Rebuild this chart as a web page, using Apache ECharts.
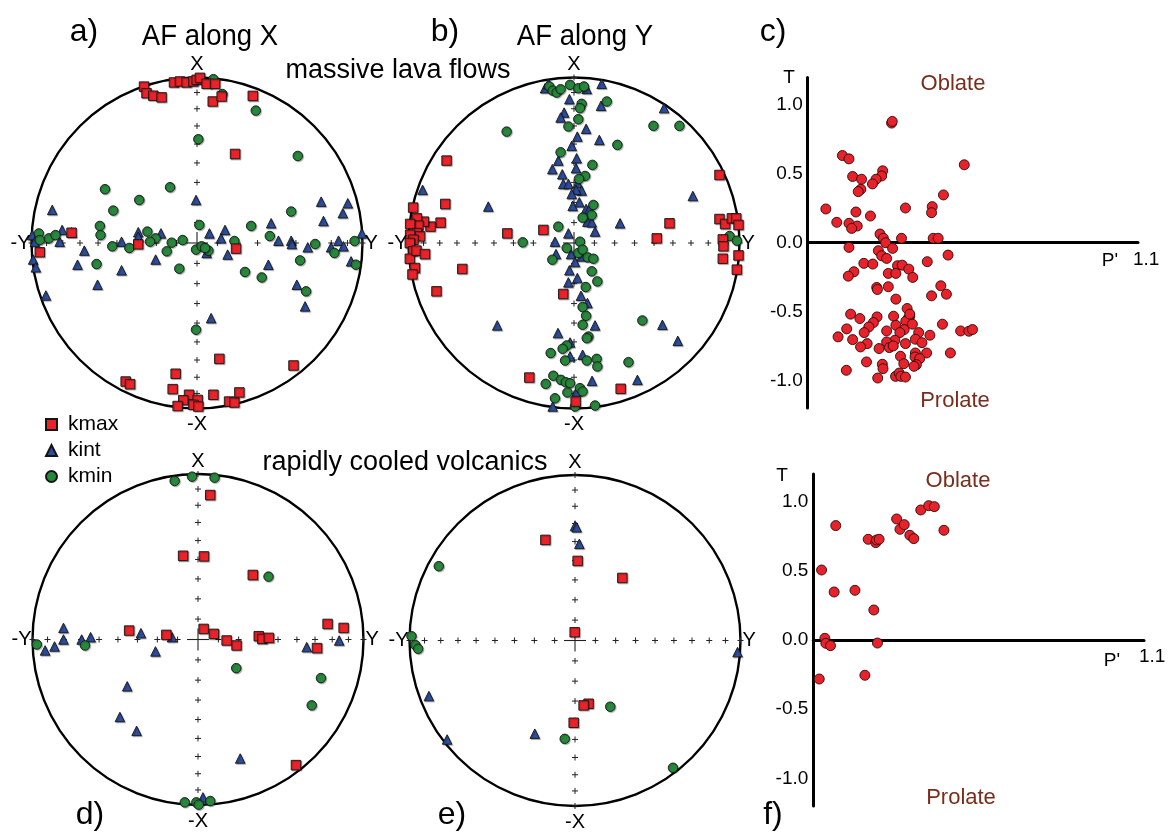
<!DOCTYPE html>
<html>
<head>
<meta charset="utf-8">
<script src="https://cdn.jsdelivr.net/npm/echarts@6/dist/echarts.min.js"></script>
<style>
  html, body { margin: 0; padding: 0; background: #fff; }
  #chart { width: 1173px; height: 836px; }
</style>
</head>
<body>
<div id="chart"></div>
<script>
// ---------------- data ----------------
// Principal susceptibility axes, equal-area projection, unit-circle coordinates [Y, X]
const axisNames = ['kmax', 'kint', 'kmin'];

// a) massive lava flows, AF along X
const aKmax = [[-0.32,0.945],[-0.305,0.905],[-0.264,0.89],[-0.214,0.88],[-0.139,0.97],[-0.103,0.976],[-0.063,0.97],[-0.022,0.976],[-0.002,0.986],[0.018,0.998],[0.058,0.962],[0.109,0.962],[0.095,0.855],[0.149,0.885],[0.337,0.889],[0.23,0.538],[-0.758,0.062],[-0.355,-0.008],[-0.95,-0.056],[0.236,-0.034],[0.135,-0.70],[0.583,-0.74],[-0.129,-0.79],[-0.431,-0.837],[-0.405,-0.853],[-0.147,-0.883],[-0.048,-0.917],[-0.083,-0.95],[0.004,-0.948],[-0.117,-0.985],[-0.022,-0.978],[0.008,-0.988],[0.099,-0.917],[0.194,-0.958],[0.226,-0.964],[0.256,-0.903]];
const aKint = [[-0.006,0.26],[-0.875,0.2],[0.75,0.25],[0.911,0.24],[0.881,0.18],[0.764,0.133],[0.448,0.119],[0.169,0.079],[0.075,0.058],[-0.218,0.058],[-0.355,0.065],[-0.355,0.038],[-0.815,0.079],[-0.758,0.065],[-0.996,0.048],[-0.83,0.008],[-0.456,0.008],[0.145,0.028],[0.492,0.014],[0.569,0.014],[0.855,0.014],[0.996,0.058],[-0.98,0.008],[-0.681,-0.046],[-0.99,-0.1],[-0.974,-0.147],[-0.722,-0.131],[-0.456,-0.165],[-0.25,-0.1],[-0.601,-0.252],[-0.913,-0.317],[0.058,-0.06],[0.185,-0.07],[0.431,-0.131],[0.573,-0.006],[0.669,-0.026],[0.81,-0.026],[0.885,-0.02],[0.931,-0.111],[0.603,-0.252],[0.653,-0.383],[0.085,-0.454]];
const aKmin = [[0.099,0.99],[0.153,0.90],[0.355,0.80],[0.008,0.627],[0.609,0.526],[-0.556,0.325],[-0.163,0.337],[-0.349,0.26],[-0.506,0.196],[0.569,0.19],[-0.587,0.103],[-0.583,0.048],[0.014,0.109],[0.327,0.103],[0.44,0.042],[-0.3,0.069],[-0.956,0.058],[-0.95,0.018],[-0.895,0.028],[-0.855,0.048],[-0.087,0.018],[-0.25,0.028],[-0.284,0.008],[-0.153,0.002],[0.226,0.012],[0.714,-0.006],[0.952,0.012],[-0.512,-0.02],[-0.409,-0.03],[-0.183,-0.05],[-0.006,-0.04],[0.028,-0.02],[0.069,-0.046],[0.048,-0.03],[0.83,-0.06],[0.96,-0.131],[-0.607,-0.127],[-0.107,-0.155],[0.29,-0.175],[0.391,-0.208],[0.623,-0.105],[0.659,-0.292],[-0.006,-0.524]];

// b) massive lava flows, AF along Y
const bKmax = [[-0.77,0.498],[-0.778,0.236],[-0.972,0.214],[-0.806,0.123],[-0.867,0.099],[-0.907,0.129],[-0.95,0.149],[-0.94,0.105],[-0.99,0.115],[-0.95,0.06],[-0.99,0.05],[-0.93,0.04],[-0.97,0.02],[-0.403,0.058],[-0.185,0.079],[0.5,0.028],[0.577,0.119],[0.879,0.411],[0.879,0.145],[0.913,0.115],[0.954,0.149],[0.98,0.149],[0.994,0.109],[0.899,0.022],[-0.992,0.0],[-0.972,-0.05],[-0.992,-0.095],[-0.952,-0.046],[-0.901,-0.067],[-0.962,-0.151],[-0.976,-0.19],[-0.675,-0.157],[-0.831,-0.292],[-0.065,-0.308],[0.903,-0.02],[0.899,-0.095],[0.994,-0.075],[0.984,-0.161],[-0.27,-0.813],[0.282,-0.881],[0.01,-0.958]];
const bKint = [[-0.915,0.321],[-0.518,0.22],[-0.175,0.935],[-0.155,0.962],[0.077,0.931],[0.167,0.962],[-0.028,0.869],[0.163,0.829],[-0.06,0.788],[-0.081,0.758],[0.544,0.815],[0.073,0.69],[0.02,0.643],[0.153,0.623],[-0.014,0.587],[0.016,0.512],[-0.095,0.498],[0.012,0.452],[-0.131,0.446],[-0.071,0.415],[-0.065,0.357],[-0.034,0.357],[0.022,0.361],[0.046,0.317],[0.012,0.321],[-0.014,0.296],[0.718,0.284],[0.032,0.246],[-0.008,0.224],[0.073,0.206],[0.093,0.206],[0.081,0.129],[0.107,0.125],[0.278,0.119],[-0.034,0.058],[0.127,0.069],[-0.115,0.008],[-0.109,-0.067],[-0.018,-0.067],[0.046,-0.081],[0.006,-0.115],[-0.028,-0.165],[0.02,-0.212],[-0.034,-0.238],[0.042,-0.319],[0.081,-0.363],[-0.464,-0.498],[0.127,-0.498],[0.534,-0.494],[-0.097,-0.544],[0.627,-0.591],[-0.024,-0.601],[-0.024,-0.685],[0.052,-0.675],[0.109,-0.833],[0.383,-0.827],[0.016,-0.897],[-0.129,-0.988]];
const bKmin = [[-0.407,0.673],[-0.149,0.946],[-0.129,0.921],[-0.105,0.909],[-0.081,0.929],[-0.024,0.956],[0.026,0.935],[0.06,0.946],[0.046,0.841],[0.036,0.815],[0.198,0.855],[0.026,0.748],[-0.034,0.704],[0.48,0.708],[0.637,0.708],[0.262,0.593],[-0.081,0.548],[0.111,0.472],[0.067,0.405],[0.03,0.387],[0.117,0.23],[0.107,0.169],[0.052,0.153],[-0.095,0.099],[-0.31,0.004],[0.036,0.008],[0.94,0.042],[0.984,0.014],[-0.044,-0.03],[0.026,-0.06],[0.052,-0.04],[0.083,-0.087],[0.117,-0.095],[-0.131,-0.101],[0.107,-0.171],[0.141,-0.232],[0.071,-0.266],[0.052,-0.387],[0.073,-0.44],[0.052,-0.494],[0.413,-0.468],[0.087,-0.565],[0.077,-0.575],[-0.044,-0.619],[-0.069,-0.639],[-0.141,-0.665],[-0.054,-0.71],[0.077,-0.71],[0.137,-0.7],[0.141,-0.746],[0.329,-0.72],[-0.125,-0.802],[-0.079,-0.827],[-0.05,-0.841],[-0.024,-0.847],[-0.171,-0.851],[0.036,-0.877],[0.052,-0.897],[-0.04,-0.903],[-0.115,-0.938],[0.006,-0.988],[0.127,-0.982]];

// d) rapidly cooled volcanics, AF along X
const dKmax = [[0.074,0.873],[-0.09,0.506],[0.036,0.502],[0.331,0.39],[-0.416,0.054],[-0.191,0.028],[0.034,0.064],[0.096,0.034],[0.173,-0.006],[0.233,-0.036],[0.367,0.02],[0.388,0.004],[0.428,0.01],[0.783,0.094],[0.88,0.07],[0.719,-0.052],[0.592,-0.759]];
const dKint = [[-0.813,0.07],[-0.813,0.0],[-0.924,-0.066],[-0.867,-0.042],[-0.703,0.0],[-0.649,0.014],[-0.345,0.038],[-0.157,0.014],[-0.257,-0.072],[-0.428,-0.283],[-0.472,-0.468],[-0.371,-0.552],[0.255,-0.719],[0.657,-0.046],[0.853,-0.006],[0.03,-0.954]];
const dKmin = [[-0.141,0.958],[-0.036,0.984],[0.1,0.978],[0.426,0.38],[-0.974,-0.03],[-0.683,-0.036],[0.231,-0.173],[0.743,-0.233],[0.687,-0.398],[-0.08,-0.984],[-0.01,-0.984],[0.004,-0.998],[0.074,-0.976]];

// e) rapidly cooled volcanics, AF along Y
const eKmax = [[-0.179,0.608],[0.016,0.481],[0.286,0.378],[-0.002,0.05],[0.082,-0.382],[0.052,-0.392],[-0.008,-0.497]];
const eKint = [[0.0,0.692],[0.01,0.684],[0.026,0.584],[-0.883,-0.336],[-0.773,-0.598],[-0.243,-0.563],[0.982,-0.07]];
const eKmin = [[-0.823,0.449],[-0.988,0.026],[-0.964,-0.028],[-0.948,-0.05],[0.213,-0.4],[-0.062,-0.594],[0.592,-0.769]];

// c) shape parameter T vs corrected anisotropy degree P', massive lava flows
const cShape = [[1.0254,0.869],[1.0256,0.881],[1.0105,0.633],[1.0125,0.609],[1.0474,0.566],[1.0227,0.522],[1.0224,0.485],[1.0207,0.461],[1.0196,0.427],[1.0136,0.481],[1.0163,0.461],[1.0161,0.388],[1.0153,0.371],[1.0411,0.347],[1.0055,0.245],[1.0296,0.252],[1.0377,0.262],[1.0375,0.218],[1.0146,0.223],[1.0190,0.194],[1.0088,0.148],[1.0125,0.141],[1.0150,0.121],[1.0133,0.104],[1.0219,0.063],[1.0229,0.032],[1.0236,0.0],[1.0284,0.032],[1.0380,0.032],[1.0395,0.032],[1.0125,-0.034],[1.0257,-0.041],[1.0214,-0.058],[1.0224,-0.095],[1.0239,-0.114],[1.0425,-0.090],[1.0170,-0.150],[1.0197,-0.155],[1.0362,-0.138],[1.0272,-0.167],[1.0286,-0.163],[1.0306,-0.192],[1.0140,-0.211],[1.0123,-0.243],[1.0244,-0.223],[1.0267,-0.223],[1.0318,-0.252],[1.0209,-0.325],[1.0211,-0.340],[1.0244,-0.320],[1.0403,-0.313],[1.0375,-0.386],[1.0420,-0.374],[1.0267,-0.410],[1.0301,-0.478],[1.0130,-0.519],[1.0158,-0.551],[1.0210,-0.539],[1.0260,-0.534],[1.0309,-0.534],[1.0304,-0.551],[1.0297,-0.570],[1.0199,-0.580],[1.0267,-0.600],[1.0292,-0.631],[1.0317,-0.592],[1.0408,-0.592],[1.0185,-0.612],[1.0118,-0.626],[1.0239,-0.641],[1.0171,-0.653],[1.0279,-0.653],[1.0336,-0.653],[1.0092,-0.684],[1.0136,-0.704],[1.0264,-0.709],[1.0326,-0.701],[1.0370,-0.672],[1.0180,-0.733],[1.0160,-0.757],[1.0239,-0.721],[1.0247,-0.762],[1.0259,-0.750],[1.0296,-0.733],[1.0346,-0.726],[1.0216,-0.769],[1.0463,-0.641],[1.0488,-0.643],[1.0499,-0.631],[1.0432,-0.801],[1.0360,-0.801],[1.0326,-0.801],[1.0325,-0.830],[1.0281,-0.825],[1.0339,-0.842],[1.0329,-0.886],[1.0322,-0.898],[1.0178,-0.866],[1.0226,-0.883],[1.0228,-0.915],[1.0291,-0.879],[1.0117,-0.927],[1.0212,-0.983],[1.0266,-0.971],[1.0277,-0.947],[1.0282,-0.971],[1.0296,-0.976],[1.0309,-0.519]];

// f) shape parameter T vs P', rapidly cooled volcanics
const fShape = [[1.0018,-0.282],[1.0025,0.506],[1.0068,0.827],[1.0063,0.347],[1.0035,0.012],[1.0038,-0.024],[1.0052,-0.041],[1.0126,0.359],[1.0156,-0.255],[1.0166,0.728],[1.0183,0.217],[1.0189,0.704],[1.0191,0.723],[1.0199,0.728],[1.0194,-0.022],[1.0252,0.875],[1.0262,0.800],[1.0275,0.834],[1.0292,0.757],[1.0304,0.733],[1.0325,0.940],[1.0349,0.971],[1.0366,0.964],[1.0395,0.793]];

// tick values
const plungeTicks = [80, 70, 60, 50, 40, 30, 20, 10, 0];   // degrees, marked along both diameters
const tTicks = [-1, -0.5, 0, 0.5, 1];
const pTicks = [1.1];

// ---------------- layout & style ----------------
const FONT = '"Liberation Sans", Arial, Helvetica, sans-serif';
const R = 165.5;
const nets = [
  { cx: 197, cy: 243,   sets: [aKmax, aKint, aKmin] },
  { cx: 574, cy: 243,   sets: [bKmax, bKint, bKmin] },
  { cx: 198, cy: 639.5, sets: [dKmax, dKint, dKmin] },
  { cx: 575, cy: 640.5, sets: [eKmax, eKint, eKmin] }
];
const shapePlots = [
  { data: cShape, grid: { left: 807.7, top: 77.5, width: 330.3, height: 330.4 } },
  { data: fShape, grid: { left: 813.3, top: 474,  width: 330.7, height: 332 } }
];
const markStyles = [
  { symbol: 'rect',     size: 9.5, color: '#ec2229' },
  { symbol: 'triangle', size: 9.5, color: '#2c4d9e' },
  { symbol: 'circle',   size: 9.5, color: '#27883c' }
];
const markZ = [5, 3, 4];

function seg(x1, y1, x2, y2, w, color) {
  return { type: 'line', shape: { x1, y1, x2, y2 }, style: { stroke: color || '#222', lineWidth: w } };
}

// stereonet frame: primitive circle, centre cross and plunge marks
function renderNet(params, api) {
  const c = api.coord([0, 0]);
  const r = api.coord([1, 0])[0] - c[0];
  const kids = [
    { type: 'circle', shape: { cx: c[0], cy: c[1], r: r }, style: { fill: null, stroke: '#000', lineWidth: 2.4 } },
    seg(c[0] - 11, c[1], c[0] + 11, c[1], 1.1),
    seg(c[0], c[1] - 11, c[0], c[1] + 11, 1.1)
  ];
  plungeTicks.forEach(p => {
    const d = Math.SQRT2 * Math.sin((90 - p) / 2 * Math.PI / 180);
    [[d, 0], [-d, 0], [0, d], [0, -d]].forEach(v => {
      const q = api.coord(v);
      kids.push(seg(q[0] - 3, q[1], q[0] + 3, q[1], 1));
      kids.push(seg(q[0], q[1] - 3, q[0], q[1] + 3, 1));
    });
  });
  return { type: 'group', children: kids };
}

const grids = [], xAxes = [], yAxes = [], series = [];

nets.forEach((n, i) => {
  grids.push({ left: n.cx - R, top: n.cy - R, width: 2 * R, height: 2 * R });
  xAxes.push({ gridIndex: i, type: 'value', min: -1, max: 1, show: false });
  yAxes.push({ gridIndex: i, type: 'value', min: -1, max: 1, show: false });
  series.push({
    type: 'custom', xAxisIndex: i, yAxisIndex: i, data: [[0, 0]],
    renderItem: renderNet, silent: true, clip: false, z: 1
  });
  n.sets.forEach((d, k) => {
    const m = markStyles[k];
    series.push({
      type: 'scatter', name: axisNames[k], xAxisIndex: i, yAxisIndex: i,
      data: d, symbol: m.symbol, symbolSize: m.size, z: markZ[k],
      itemStyle: {
        color: m.color, borderColor: '#151515', borderWidth: 0.9, opacity: 1,
        shadowColor: 'rgba(0,0,0,0.3)', shadowBlur: 1, shadowOffsetX: 1, shadowOffsetY: 1
      }
    });
  });
});

shapePlots.forEach((s, j) => {
  const i = nets.length + j;
  grids.push(s.grid);
  xAxes.push({
    gridIndex: i, type: 'value', min: 1.0, max: 1.1,
    axisLine: { show: true, onZero: true, lineStyle: { color: '#000', width: 3 } },
    axisTick: { show: false }, splitLine: { show: false }, axisLabel: { show: false }
  });
  yAxes.push({
    gridIndex: i, type: 'value', min: -1.2, max: 1.2,
    axisLine: { show: true, onZero: false, lineStyle: { color: '#000', width: 3 } },
    axisTick: { show: false }, splitLine: { show: false },
    axisLabel: {
      customValues: tTicks, formatter: v => v.toFixed(1),
      fontSize: 19, color: '#000', fontFamily: FONT, margin: 5
    }
  });
  series.push({
    type: 'scatter', name: 'T-P\'', xAxisIndex: i, yAxisIndex: i, data: s.data,
    symbol: 'circle', symbolSize: 10, z: 5,
    itemStyle: { color: '#e8222b', borderColor: '#2a0a0a', borderWidth: 0.9, opacity: 1 }
  });
});

// ---------------- text ----------------
function txt(text, x, y, size, opt) {
  opt = opt || {};
  return {
    type: 'text', x: x, y: y, scaleX: opt.scaleX || 1, silent: true, z: 10,
    style: {
      text: text, fontSize: size, fontFamily: FONT, fill: opt.color || '#000',
      align: opt.align || 'center', verticalAlign: 'middle'
    }
  };
}

const BROWN = '#7b2d1b';
const texts = [
  txt('a)', 84, 32, 32), txt('b)', 445, 32, 32), txt('c)', 773, 32, 32),
  txt('d)', 90, 815, 32), txt('e)', 452, 815, 32), txt('f)', 773, 815, 32),
  txt('AF along X', 210, 37, 29, { scaleX: 0.95 }),
  txt('AF along Y', 585, 37, 29, { scaleX: 0.95 }),
  txt('massive lava flows', 398, 71, 27),
  txt('rapidly cooled volcanics', 405, 463, 27),
  // T-P' panels
  txt('T', 789, 78, 19), txt('Oblate', 953, 84, 22, { color: BROWN }), txt('Prolate', 955, 401, 22, { color: BROWN }),
  txt("P'", 1110, 261, 19),
  txt('T', 782, 476, 19), txt('Oblate', 958, 481, 22, { color: BROWN }), txt('Prolate', 961, 798, 22, { color: BROWN }),
  txt("P'", 1112, 661, 19)
];
nets.forEach(n => {
  texts.push(txt('X', n.cx, n.cy - R - 13, 20));
  texts.push(txt('-X', n.cx, n.cy + R + 16, 20));
  texts.push(txt('-Y', n.cx - R - 1, n.cy, 20, { align: 'right' }));
  texts.push(txt('Y', n.cx + R + 2, n.cy, 20, { align: 'left' }));
});

const chart = echarts.init(document.getElementById('chart'), null, { renderer: 'canvas' });
chart.setOption({
  animation: false,
  backgroundColor: '#fff',
  grid: grids,
  xAxis: xAxes,
  yAxis: yAxes,
  legend: {
    data: axisNames, orient: 'vertical', left: 45, top: 414, padding: 0,
    itemWidth: 11, itemHeight: 11, itemGap: 5, selectedMode: false,
    textStyle: { fontSize: 21, lineHeight: 21, color: '#000', fontFamily: FONT, padding: [0, 0, 0, 6] }
  },
  graphic: texts,
  series: series
});

// P' end-of-axis value labels, placed at the axis end through the grid's own scale
const pLabels = [];
shapePlots.forEach((s, j) => {
  pTicks.forEach(v => {
    const q = chart.convertToPixel({ gridIndex: nets.length + j }, [v, 0]);
    pLabels.push(txt(v.toFixed(1), q[0] - 5, q[1] + 17, 19, { align: 'left' }));
  });
});
chart.setOption({ graphic: texts.concat(pLabels) });
</script>
</body>
</html>
